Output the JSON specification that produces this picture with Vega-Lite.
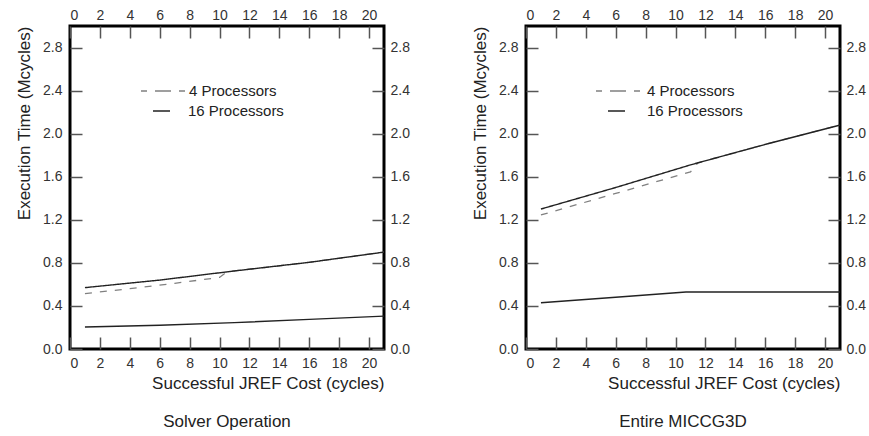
{
  "$schema": "https://vega.github.io/schema/vega-lite/v6.json",
  "background": "white",
  "padding": {"left": 14, "top": 6, "right": 5, "bottom": 5},
  "datasets": {
    "runs": [
      {"panel": "Solver Operation", "series": "4 Processors", "line": "upper", "x": 1, "y": 0.515},
      {"panel": "Solver Operation", "series": "4 Processors", "line": "upper", "x": 4, "y": 0.56},
      {"panel": "Solver Operation", "series": "4 Processors", "line": "upper", "x": 7, "y": 0.61},
      {"panel": "Solver Operation", "series": "4 Processors", "line": "upper", "x": 10, "y": 0.665},
      {"panel": "Solver Operation", "series": "4 Processors", "line": "upper", "x": 10.5, "y": 0.717},
      {"panel": "Solver Operation", "series": "4 Processors", "line": "upper", "x": 16, "y": 0.805},
      {"panel": "Solver Operation", "series": "4 Processors", "line": "upper", "x": 21, "y": 0.9},
      {"panel": "Solver Operation", "series": "16 Processors", "line": "upper", "x": 1, "y": 0.57},
      {"panel": "Solver Operation", "series": "16 Processors", "line": "upper", "x": 6, "y": 0.64},
      {"panel": "Solver Operation", "series": "16 Processors", "line": "upper", "x": 11, "y": 0.725},
      {"panel": "Solver Operation", "series": "16 Processors", "line": "upper", "x": 16, "y": 0.805},
      {"panel": "Solver Operation", "series": "16 Processors", "line": "upper", "x": 21, "y": 0.9},
      {"panel": "Solver Operation", "series": "16 Processors", "line": "lower", "x": 1, "y": 0.205},
      {"panel": "Solver Operation", "series": "16 Processors", "line": "lower", "x": 6, "y": 0.22},
      {"panel": "Solver Operation", "series": "16 Processors", "line": "lower", "x": 11, "y": 0.245},
      {"panel": "Solver Operation", "series": "16 Processors", "line": "lower", "x": 16, "y": 0.275},
      {"panel": "Solver Operation", "series": "16 Processors", "line": "lower", "x": 21, "y": 0.305},
      {"panel": "Entire MICCG3D", "series": "4 Processors", "line": "upper", "x": 1, "y": 1.245},
      {"panel": "Entire MICCG3D", "series": "4 Processors", "line": "upper", "x": 6, "y": 1.445},
      {"panel": "Entire MICCG3D", "series": "4 Processors", "line": "upper", "x": 11, "y": 1.645},
      {"panel": "Entire MICCG3D", "series": "4 Processors", "line": "upper", "x": 11.5, "y": 1.73},
      {"panel": "Entire MICCG3D", "series": "4 Processors", "line": "upper", "x": 16, "y": 1.9},
      {"panel": "Entire MICCG3D", "series": "4 Processors", "line": "upper", "x": 21, "y": 2.08},
      {"panel": "Entire MICCG3D", "series": "16 Processors", "line": "upper", "x": 1, "y": 1.3},
      {"panel": "Entire MICCG3D", "series": "16 Processors", "line": "upper", "x": 6, "y": 1.5},
      {"panel": "Entire MICCG3D", "series": "16 Processors", "line": "upper", "x": 11, "y": 1.71},
      {"panel": "Entire MICCG3D", "series": "16 Processors", "line": "upper", "x": 16, "y": 1.9},
      {"panel": "Entire MICCG3D", "series": "16 Processors", "line": "upper", "x": 21, "y": 2.08},
      {"panel": "Entire MICCG3D", "series": "16 Processors", "line": "lower", "x": 1, "y": 0.43},
      {"panel": "Entire MICCG3D", "series": "16 Processors", "line": "lower", "x": 6, "y": 0.48},
      {"panel": "Entire MICCG3D", "series": "16 Processors", "line": "lower", "x": 10.7, "y": 0.53},
      {"panel": "Entire MICCG3D", "series": "16 Processors", "line": "lower", "x": 21, "y": 0.53}
    ]
  },
  "config": {
    "font": "Liberation Sans",
    "view": {"stroke": "#000", "strokeWidth": 3},
    "concat": {"spacing": 59},
    "axis": {
      "domain": false,
      "grid": false,
      "labelFont": "Liberation Sans",
      "labelFontSize": 14,
      "labelColor": "#333",
      "tickColor": "#555",
      "tickWidth": 1.5,
      "tickSize": 12,
      "titleFont": "Liberation Sans",
      "titleFontSize": 17,
      "titleFontWeight": "normal",
      "titleColor": "#222"
    },
    "legend": {
      "title": null,
      "orient": "none",
      "direction": "vertical",
      "symbolType": "stroke",
      "clipHeight": 20,
      "rowPadding": 0,
      "padding": 0,
      "labelFont": "Liberation Sans",
      "labelFontSize": 15,
      "labelColor": "#222",
      "symbolStrokeWidth": 1.3
    },
    "title": {"font": "Liberation Sans", "fontSize": 17, "fontWeight": "normal", "color": "#222"}
  },
  "resolve": {"scale": {"color": "independent", "strokeDash": "independent"}},
  "hconcat": [
    {
      "width": 314,
      "height": 323,
      "data": {"name": "runs"},
      "transform": [{"filter": "datum.panel === 'Solver Operation'"}],
      "title": {"text": "Solver Operation", "orient": "bottom", "anchor": "middle", "frame": "group", "offset": 23},
      "resolve": {"axis": {"x": "independent", "y": "independent"}},
      "layer": [
        {
          "transform": [{"filter": "datum.series === '4 Processors'"}],
          "mark": {"type": "line", "strokeWidth": 1.3},
          "encoding": {
            "x": {"field": "x", "type": "quantitative", "scale": {"domain": [0, 21], "nice": false, "zero": false},
                  "axis": {"orient": "bottom", "offset": -12, "values": [0, 2, 4, 6, 8, 10, 12, 14, 16, 18, 20], "format": "d", "labelPadding": 7,
                           "title": "Successful JREF Cost (cycles)", "titleAnchor": "end", "titlePadding": 5}},
            "y": {"field": "y", "type": "quantitative", "scale": {"domain": [0, 3], "nice": false},
                  "axis": {"orient": "left", "offset": -12, "values": [0, 0.4, 0.8, 1.2, 1.6, 2.0, 2.4, 2.8], "format": ".1f", "labelPadding": 8,
                           "title": "Execution Time (Mcycles)", "titleAnchor": "end", "titlePadding": 9}},
            "color": {"field": "series", "type": "nominal",
                      "scale": {"domain": ["4 Processors", "16 Processors"], "range": ["#808080", "#222222"]},
                      "legend": {"values": ["4 Processors"], "legendX": 70, "legendY": 55, "labelOffset": 3,
                                 "symbolSize": 1936, "symbolDash": [6, 8, 16, 8]}},
            "strokeDash": {"field": "series", "type": "nominal",
                           "scale": {"domain": ["16 Processors", "4 Processors"], "range": [[1, 0], [7, 8]]},
                           "legend": {"values": ["16 Processors"], "legendX": 82, "legendY": 75, "labelOffset": 17,
                                      "symbolSize": 289, "symbolStrokeColor": "#222222"}}
          }
        },
        {
          "transform": [{"filter": "datum.series === '16 Processors' && datum.line === 'upper'"}],
          "mark": {"type": "line", "strokeWidth": 1.4},
          "encoding": {
            "x": {"field": "x", "type": "quantitative", "axis": null},
            "y": {"field": "y", "type": "quantitative", "axis": null},
            "color": {"field": "series", "type": "nominal"},
            "strokeDash": {"field": "series", "type": "nominal"}
          }
        },
        {
          "transform": [{"filter": "datum.line === 'lower'"}],
          "mark": {"type": "line", "strokeWidth": 1.4, "color": "#222222"},
          "encoding": {
            "x": {"field": "x", "type": "quantitative",
                  "axis": {"orient": "top", "offset": -12, "values": [0, 2, 4, 6, 8, 10, 12, 14, 16, 18, 20], "format": "d", "labelPadding": 4, "title": null}},
            "y": {"field": "y", "type": "quantitative",
                  "axis": {"orient": "right", "offset": -12, "values": [0, 0.4, 0.8, 1.2, 1.6, 2.0, 2.4, 2.8], "format": ".1f", "labelPadding": 6, "title": null}}
          }
        }
      ]
    },
    {
      "width": 314,
      "height": 323,
      "data": {"name": "runs"},
      "transform": [{"filter": "datum.panel === 'Entire MICCG3D'"}],
      "title": {"text": "Entire MICCG3D", "orient": "bottom", "anchor": "middle", "frame": "group", "offset": 23},
      "resolve": {"axis": {"x": "independent", "y": "independent"}},
      "layer": [
        {
          "transform": [{"filter": "datum.series === '4 Processors'"}],
          "mark": {"type": "line", "strokeWidth": 1.3},
          "encoding": {
            "x": {"field": "x", "type": "quantitative", "scale": {"domain": [0, 21], "nice": false, "zero": false},
                  "axis": {"orient": "bottom", "offset": -12, "values": [0, 2, 4, 6, 8, 10, 12, 14, 16, 18, 20], "format": "d", "labelPadding": 7,
                           "title": "Successful JREF Cost (cycles)", "titleAnchor": "end", "titlePadding": 5}},
            "y": {"field": "y", "type": "quantitative", "scale": {"domain": [0, 3], "nice": false},
                  "axis": {"orient": "left", "offset": -12, "values": [0, 0.4, 0.8, 1.2, 1.6, 2.0, 2.4, 2.8], "format": ".1f", "labelPadding": 8,
                           "title": "Execution Time (Mcycles)", "titleAnchor": "end", "titlePadding": 9}},
            "color": {"field": "series", "type": "nominal",
                      "scale": {"domain": ["4 Processors", "16 Processors"], "range": ["#808080", "#222222"]},
                      "legend": {"values": ["4 Processors"], "legendX": 69, "legendY": 55, "labelOffset": 6,
                                 "symbolSize": 1936, "symbolDash": [6, 8, 16, 8]}},
            "strokeDash": {"field": "series", "type": "nominal",
                           "scale": {"domain": ["16 Processors", "4 Processors"], "range": [[1, 0], [7, 8]]},
                           "legend": {"values": ["16 Processors"], "legendX": 81, "legendY": 75, "labelOffset": 21,
                                      "symbolSize": 289, "symbolStrokeColor": "#222222"}}
          }
        },
        {
          "transform": [{"filter": "datum.series === '16 Processors' && datum.line === 'upper'"}],
          "mark": {"type": "line", "strokeWidth": 1.4},
          "encoding": {
            "x": {"field": "x", "type": "quantitative", "axis": null},
            "y": {"field": "y", "type": "quantitative", "axis": null},
            "color": {"field": "series", "type": "nominal"},
            "strokeDash": {"field": "series", "type": "nominal"}
          }
        },
        {
          "transform": [{"filter": "datum.line === 'lower'"}],
          "mark": {"type": "line", "strokeWidth": 1.4, "color": "#222222"},
          "encoding": {
            "x": {"field": "x", "type": "quantitative",
                  "axis": {"orient": "top", "offset": -12, "values": [0, 2, 4, 6, 8, 10, 12, 14, 16, 18, 20], "format": "d", "labelPadding": 4, "title": null}},
            "y": {"field": "y", "type": "quantitative",
                  "axis": {"orient": "right", "offset": -12, "values": [0, 0.4, 0.8, 1.2, 1.6, 2.0, 2.4, 2.8], "format": ".1f", "labelPadding": 6, "title": null}}
          }
        }
      ]
    }
  ]
}
